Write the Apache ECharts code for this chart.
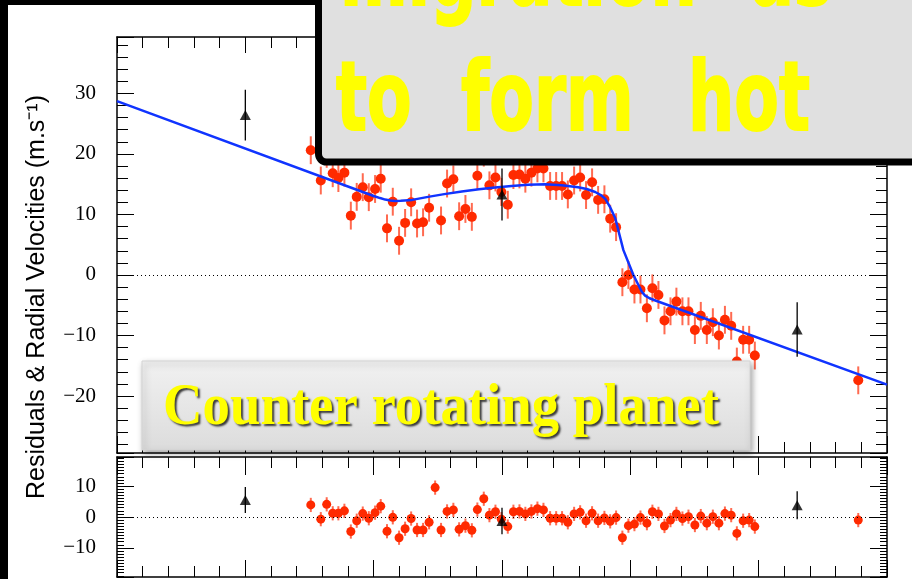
<!DOCTYPE html>
<html><head><meta charset="utf-8">
<script src="https://cdn.jsdelivr.net/npm/echarts@6/dist/echarts.min.js"></script>
<style>html,body{margin:0;padding:0;background:#fff}#c{width:912px;height:579px}</style>
</head><body><div id="c"></div>
<script>
// ---- data (time in hours from mid-transit, velocities in m/s) ----
const TIME = [-1.490, -1.412, -1.366, -1.319, -1.275, -1.228, -1.178, -1.132, -1.085, -1.038,
  -0.989, -0.945, -0.896, -0.851, -0.802, -0.755, -0.708, -0.662, -0.615, -0.568,
  -0.521, -0.475, -0.428, -0.379, -0.334, -0.285, -0.235, -0.192, -0.142, -0.098,
  -0.051, -0.005, 0.045, 0.089, 0.136, 0.182, 0.229, 0.276, 0.323, 0.375,
  0.422, 0.468, 0.513, 0.562, 0.609, 0.655, 0.702, 0.749, 0.798, 0.843,
  0.889, 0.938, 0.985, 1.032, 1.079, 1.129, 1.172, 1.219, 1.266, 1.313,
  1.359, 1.406, 1.453, 1.503, 1.549, 1.596, 1.643, 1.690, 1.737, 1.786,
  1.830, 1.879, 1.926, 1.970, 2.776];
const RV = [20.6, 15.6, 20.0, 16.8, 16.0, 16.9, 9.8, 12.9, 14.5, 12.85,
  14.2, 15.9, 7.7, 12.1, 5.65, 8.6, 12.0, 8.5, 8.7, 11.1,
  22.2, 9.0, 15.1, 15.8, 9.7, 10.9, 9.6, 16.4, 20.2, 14.8,
  16.1, 13.7, 11.6, 16.5, 16.6, 15.9, 16.9, 17.6, 17.6, 14.7,
  14.7, 14.7, 13.3, 15.6, 16.1, 13.2, 15.3, 12.4, 12.5, 9.3,
  7.9, -1.2, 0.0, -2.4, -2.4, -5.5, -2.2, -3.3, -7.5, -6.0,
  -4.4, -6.0, -6.0, -9.1, -6.75, -9.1, -7.8, -10.0, -7.4, -8.4,
  -14.3, -10.7, -10.7, -13.3, -17.4];
const RESID = [3.9, -0.7, 4.1, 1.2, 1.2, 2.0, -4.7, -1.2, 1.1, -0.4,
  1.4, 3.5, -4.6, -0.1, -6.7, -3.8, -0.5, -4.2, -4.2, -1.7,
  9.5, -4.2, 1.8, 2.3, -4.0, -2.8, -4.3, 2.4, 5.9, 0.6,
  1.7, -0.7, -3.1, 1.7, 1.8, 1.0, 1.8, 2.7, 2.3, -0.4,
  -0.4, -0.4, -1.7, 1.0, 1.5, -1.2, 1.2, -1.2, -0.3, -1.4,
  -0.2, -6.7, -2.8, -2.3, -0.2, -2.0, 1.7, 1.0, -2.9, -1.0,
  1.0, -0.5, 0.1, -2.6, 0.3, -2.0, 0.1, -2.0, 1.1, 0.6,
  -5.3, -1.2, -1.0, -3.1, -1.0];
const RV_ERR = 2.3;
const TRI_TIME = [-2.0, 0.0, 2.3];
const TRI_RV = [26.4, 13.3, -9.0];
const TRI_RESID = [5.5, -1.3, 3.8];
const TRI_ERR = [4.2, 4.3, 4.5];
const MODEL_T = [-3.0, -1.0, -0.95, -0.91, -0.87, -0.83, -0.79, -0.70, -0.576, -0.45, -0.313, -0.18, -0.054,
  0.075, 0.203, 0.336, 0.466, 0.593, 0.66, 0.726, 0.77, 0.804, 0.84, 0.882, 0.946, 1.024, 1.063, 1.09, 1.115,
  1.15, 1.2, 3.0];
const MODEL_RV = [28.7, 13.04, 12.7, 12.45, 12.3, 12.23, 12.24, 12.4, 12.9, 13.35, 13.8, 14.15, 14.45,
  14.7, 14.9, 15.0, 14.8, 14.5, 14.2, 13.7, 13.2, 12.6, 11.3, 9.4, 4.1, 0.0, -1.65, -2.8, -3.4,
  -3.85, -4.25, -18.1];
const Y_TITLE = 'Residuals & Radial Velocities (m.s\u207B\u00B9)';

// ---- helpers ----
const RED = '#ff2a00', RED_BAR = '#ff6a50', BLUE = '#1034ff';
const fmt = v => (v < 0 ? '\u2212' + (-v) : String(v));
function xAx(grid, pos, maj, mnr) {
  return {type: 'value', gridIndex: grid, position: pos, min: -3, max: 3, interval: 1,
    axisLine: {show: true, onZero: false, lineStyle: {color: '#000', width: 1.5}},
    axisTick: {show: true, inside: true, length: maj, lineStyle: {color: '#000', width: 1}},
    minorTick: {show: true, splitNumber: 5, length: mnr, lineStyle: {color: '#000', width: 1}},
    axisLabel: {show: false}, splitLine: {show: false}, minorSplitLine: {show: false}};
}
function yAx(grid, pos, lo, hi, maj, mnr, split, labels) {
  return {type: 'value', gridIndex: grid, position: pos, min: lo, max: hi, minInterval: 10, maxInterval: 10,
    axisLine: {show: true, onZero: false, lineStyle: {color: '#000', width: 1.5}},
    axisTick: {show: true, inside: true, length: maj, lineStyle: {color: '#000', width: 1}},
    minorTick: {show: true, splitNumber: split, length: mnr, lineStyle: {color: '#000', width: 1}},
    axisLabel: {show: labels, showMinLabel: false, showMaxLabel: false, formatter: fmt,
      fontFamily: 'Liberation Serif', fontSize: 21, color: '#000', margin: 21},
    splitLine: {show: false}, minorSplitLine: {show: false}};
}
function errSeries(xi, yi, data, color, width, z) {
  return {type: 'custom', xAxisIndex: xi, yAxisIndex: yi, z: z, silent: true, data: data,
    renderItem: function (params, api) {
      const x = api.value(0), y = api.value(1), e = api.value(2);
      const a = api.coord([x, y - e]), b = api.coord([x, y + e]);
      return {type: 'line', shape: {x1: a[0], y1: a[1], x2: b[0], y2: b[1]},
        style: {stroke: color, lineWidth: width}};
    }};
}
const zeroLine = {silent: true, symbol: ['none', 'none'], label: {show: false},
  lineStyle: {color: '#000', type: [1, 3], width: 1}, data: [{yAxis: 0}], animation: false};

const rvPts = TIME.map((t, i) => [t, RV[i]]);
const rvErr = TIME.map((t, i) => [t, RV[i], RV_ERR]);
const resPts = TIME.map((t, i) => [t, RESID[i]]);
const resErr = TIME.map((t, i) => [t, RESID[i], RV_ERR]);
const triPts = TRI_TIME.map((t, i) => [t, TRI_RV[i]]);
const triErr = TRI_TIME.map((t, i) => [t, TRI_RV[i], TRI_ERR[i]]);
const triResPts = TRI_TIME.map((t, i) => [t, TRI_RESID[i]]);
const triResErr = TRI_TIME.map((t, i) => [t, TRI_RESID[i], TRI_ERR[i]]);
const model = MODEL_T.map((t, i) => [t, MODEL_RV[i]]);

const comic = {fontFamily: 'DejaVu Sans', fontWeight: 'bold', fontSize: 97, fill: '#ffff00',
  stroke: '#ffff00', lineWidth: 2, verticalAlign: 'middle', textVerticalAlign: 'middle',
  align: 'left', textAlign: 'left'};
function word(t, x, yc) {
  return {type: 'text', z: 101, x: x, y: yc, scaleX: 0.67, style: Object.assign({text: t}, comic)};
}

const chart = echarts.init(document.getElementById('c'), null, {renderer: 'canvas'});
chart.setOption({
  animation: false,
  backgroundColor: '#fff',
  grid: [
    {left: 117, right: 25, top: 37, height: 416},
    {left: 117, right: 25, top: 457, height: 120}
  ],
  xAxis: [xAx(0, 'bottom', 17, 11), xAx(0, 'top', 16, 11), xAx(1, 'bottom', 17, 11), xAx(1, 'top', 18, 11)],
  yAxis: [
    yAx(0, 'left', -29.4, 39.3, 17, 11, 5, true),
    yAx(0, 'right', -29.4, 39.3, 17, 11, 5, false),
    yAx(1, 'left', -19.4, 19.4, 17, 7, 10, true),
    yAx(1, 'right', -19.4, 19.4, 17, 7, 10, false)
  ],
  series: [
    errSeries(0, 0, rvErr, RED_BAR, 2, 2),
    {type: 'scatter', xAxisIndex: 0, yAxisIndex: 0, z: 3, data: rvPts, symbol: 'circle', symbolSize: 10,
      itemStyle: {color: RED, opacity: 1}, markLine: zeroLine},
    {type: 'line', xAxisIndex: 0, yAxisIndex: 0, z: 4, data: model, showSymbol: false, symbol: 'none',
      smooth: false, lineStyle: {color: BLUE, width: 2.5}},
    errSeries(0, 0, triErr, '#000', 1.3, 5),
    {type: 'scatter', xAxisIndex: 0, yAxisIndex: 0, z: 6, data: triPts, symbol: 'triangle', symbolSize: [11, 10],
      itemStyle: {color: '#000'}},
    errSeries(2, 2, resErr, RED_BAR, 2, 2),
    {type: 'scatter', xAxisIndex: 2, yAxisIndex: 2, z: 3, data: resPts, symbol: 'circle', symbolSize: 9,
      itemStyle: {color: RED, opacity: 1}, markLine: zeroLine},
    errSeries(2, 2, triResErr, '#000', 1.3, 5),
    {type: 'scatter', xAxisIndex: 2, yAxisIndex: 2, z: 6, data: triResPts, symbol: 'triangle', symbolSize: [11, 10],
      itemStyle: {color: '#000'}}
  ],
  graphic: {elements: [
    {type: 'rect', z: 100, shape: {x: 0, y: 0, width: 8, height: 579}, style: {fill: '#000'}},
    {type: 'rect', z: 100, shape: {x: 0, y: 0, width: 320, height: 5}, style: {fill: '#000'}},
    {type: 'rect', z: 100, shape: {x: 318.5, y: -20, width: 700, height: 182, r: [0, 0, 0, 8]},
      style: {fill: '#e0e0e0', stroke: '#000', lineWidth: 7}},
    word('migration', 340, -20),
    word('as', 750, -20),
    word('to', 336, 105),
    word('form', 461, 105),
    word('hot', 688, 105),
    {type: 'rect', z: 100, shape: {x: 142, y: 361, width: 608, height: 89},
      style: {fill: {type: 'linear', x: 0, y: 0, x2: 0, y2: 1,
        colorStops: [{offset: 0, color: '#f1f1f1'}, {offset: 1, color: '#dcdcdc'}]},
        stroke: '#d4d4d4', lineWidth: 1, shadowBlur: 6, shadowColor: 'rgba(0,0,0,0.35)',
        shadowOffsetX: 2, shadowOffsetY: 3}},
    {type: 'text', z: 101, x: 163, y: 408, scaleX: 0.913,
      style: {text: 'Counter rotating planet', fontFamily: 'Liberation Serif', fontWeight: 'bold', fontSize: 60,
        fill: '#ffff00', align: 'left', textAlign: 'left', verticalAlign: 'middle', textVerticalAlign: 'middle',
        textShadowColor: 'rgba(0,0,0,0.75)', textShadowBlur: 2, textShadowOffsetX: 2, textShadowOffsetY: 2}},
    {type: 'text', z: 100, x: 37, y: 297, rotation: Math.PI / 2,
      style: {text: Y_TITLE, fontFamily: 'Liberation Sans', fontSize: 25, fill: '#000',
        align: 'center', textAlign: 'center', verticalAlign: 'middle', textVerticalAlign: 'middle'}}
  ]}
});
</script>
</body></html>
